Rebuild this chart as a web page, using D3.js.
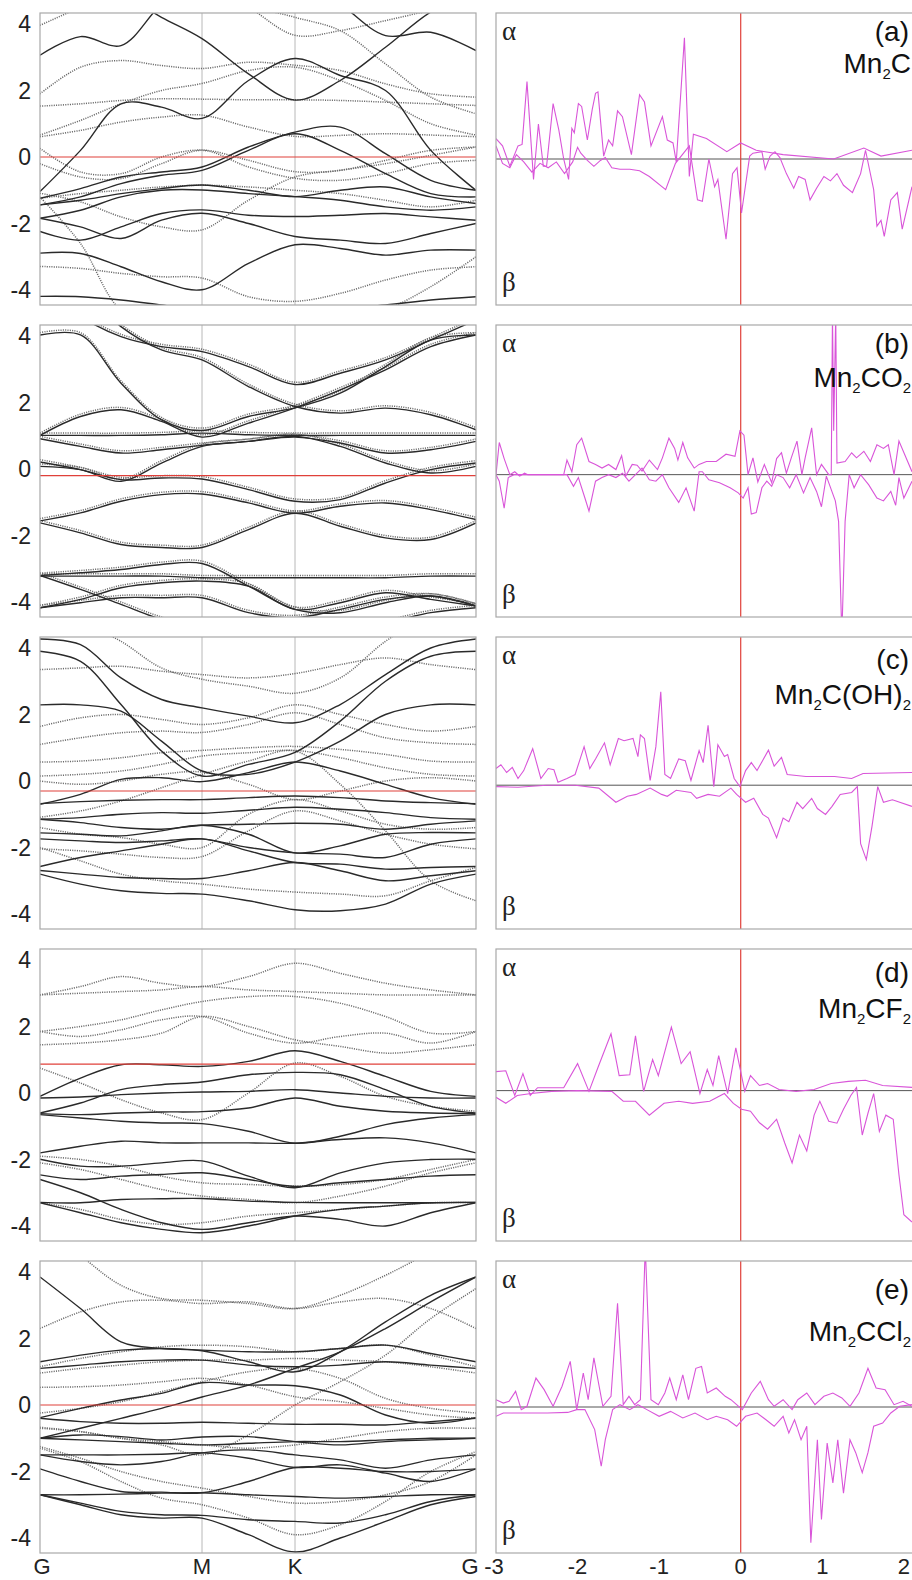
<!DOCTYPE html>
<html><head><meta charset="utf-8">
<script src="https://cdn.jsdelivr.net/npm/d3@7/dist/d3.min.js"></script>
<style>body{margin:0;background:#fff}</style>
</head><body><svg id="c" width="912" height="1580"></svg>
<script>
// ---------- data ----------
const kPos = [0,0.25,0.5,0.75,1,1.5,2,2.25,2.5,2.75,3];
const kSym = [0,1,2,3];
const kLabels = ["G","M","K","G"];
const yTicks = [4,2,0,-2,-4];
const eTicks = [-3,-2,-1,0,1,2];
const panelLetters = ["(a)","(b)","(c)","(d)","(e)"];
const formulaA = [["Mn",0],["2",1],["C",0]];
const formulaB = [["Mn",0],["2",1],["CO",0],["2",1]];
const formulaC = [["Mn",0],["2",1],["C(OH)",0],["2",1]];
const formulaD = [["Mn",0],["2",1],["CF",0],["2",1]];
const formulaE = [["Mn",0],["2",1],["CCl",0],["2",1]];
const fermiLevels = [0.0,-0.2,-0.3,0.87,0.0];

// band energies at kPos (G ... M .. K ... G)
const bandsA_solid = [
 [3.06,3.62,3.35,4.6,5.5,5.5,5.5,5.5,5.5,5.5,5.5],
 [5.5,5.2,4.9,4.2,3.56,2.5,1.71,2.3,3.3,4.36,5.0],
 [5.5,5.5,5.5,5.5,5.5,5.5,5.5,4.6,3.65,3.75,3.2],
 [-1.04,0.2,1.6,1.5,1.16,2.3,2.96,2.45,2.0,0.2,-1.0],
 [-1.24,-0.95,-0.6,-0.45,-0.3,0.3,0.75,0.9,0.1,-0.7,-1.0],
 [-1.44,-1.2,-0.8,-0.55,-0.4,0.2,0.7,0.2,-0.5,-1.1,-1.2],
 [-1.44,-1.3,-1.1,-0.95,-0.84,-1.0,-1.19,-1.0,-0.9,-1.2,-1.4],
 [-1.84,-1.6,-1.2,-1.0,-0.99,-1.1,-1.19,-1.3,-1.5,-1.6,-1.5],
 [-2.24,-2.5,-2.1,-1.7,-1.59,-1.75,-1.79,-1.75,-1.7,-1.8,-1.9],
 [-1.84,-2.1,-2.45,-1.9,-1.69,-2.0,-2.39,-2.5,-2.6,-2.3,-2.0],
 [-2.89,-2.9,-3.3,-3.75,-3.99,-3.2,-2.64,-2.75,-2.95,-2.8,-2.8],
 [-4.19,-4.2,-4.3,-4.45,-4.6,-4.6,-4.6,-4.55,-4.45,-4.3,-4.2]
];
const bandsA_dotted = [
 [3.96,4.5,5.0,5.2,5.2,4.5,3.66,3.8,4.1,4.4,4.6],
 [1.9,2.7,2.9,2.75,2.66,2.85,2.76,2.6,2.2,1.9,1.8],
 [1.53,1.6,1.7,1.75,1.74,1.72,1.72,1.7,1.65,1.6,1.55],
 [0.66,1.1,1.6,2.0,2.21,2.6,2.7,2.3,1.7,1.0,0.66],
 [0.61,0.8,1.05,1.2,1.26,0.9,0.62,0.65,0.7,0.66,0.61],
 [0.26,-0.45,-0.5,0.0,0.21,-0.1,-0.44,-0.4,-0.1,0.2,0.3],
 [-0.2,-0.6,-0.65,-0.2,0.2,-0.3,-0.64,-0.7,-0.5,-0.2,-0.1],
 [-1.09,-1.35,-1.8,-2.1,-2.19,-1.3,-0.6,-0.4,-0.2,0.05,0.3],
 [-1.24,-1.1,-1.0,-0.9,-0.85,-0.9,-1.0,-1.1,-1.3,-1.5,-1.3],
 [-3.29,-3.35,-3.5,-3.6,-3.64,-4.2,-4.34,-4.1,-3.7,-3.4,-3.3],
 [-1.2,-2.6,-4.6,-5,-5,-5,-5,-5,-4.6,-3.9,-3.0],
 [5.5,5.5,5.5,5.5,5.5,4.6,4.2,3.8,2.8,1.8,1.3]
];
const bandsB = [
 [4.05,4.05,2.6,1.5,1.18,1.6,1.86,2.3,3.1,3.9,4.05],
 [5.5,4.6,4.0,3.7,3.55,3.1,2.56,2.9,3.3,3.9,4.5],
 [5.5,5.5,4.3,3.6,3.3,2.5,1.9,1.7,1.85,1.65,1.2],
 [1.03,1.6,1.8,1.45,0.98,1.4,1.86,2.4,3.0,3.7,4.05],
 [1.03,1.03,1.03,1.05,1.1,1.05,1.03,1.03,1.03,1.03,1.03],
 [0.93,0.7,0.5,0.6,0.73,0.85,0.98,0.8,0.5,0.6,0.85],
 [0.23,0.0,-0.3,-0.25,-0.28,-0.6,-0.95,-0.9,-0.4,0.0,0.2],
 [0.1,0.0,-0.35,0.2,0.7,0.85,1.0,0.7,0.2,-0.1,0.1],
 [-1.54,-1.3,-0.95,-0.75,-0.73,-1.0,-1.31,-1.1,-1.0,-1.2,-1.5],
 [-1.6,-1.9,-2.25,-2.34,-2.34,-1.8,-1.31,-1.7,-2.05,-2.1,-1.6],
 [-3.18,-3.1,-3.0,-2.85,-2.82,-3.5,-4.2,-4.3,-4.0,-3.8,-4.1],
 [-3.18,-3.6,-4.05,-4.5,-4.8,-4.8,-4.8,-4.8,-4.6,-4.3,-4.15],
 [-3.2,-3.2,-3.2,-3.2,-3.25,-3.25,-3.25,-3.25,-3.25,-3.2,-3.2],
 [-4.15,-4.0,-3.85,-3.85,-3.85,-4.3,-4.45,-4.2,-3.9,-3.8,-4.1],
 [-4.15,-3.9,-3.55,-3.4,-3.35,-3.5,-4.2,-4.0,-3.7,-3.9,-4.1]
];
const bandsC_solid = [
 [4.27,4.1,3.1,2.45,2.2,1.95,1.75,2.3,3.2,4.0,4.27],
 [3.9,3.6,2.3,0.9,0.15,0.5,0.86,1.8,3.0,3.75,3.9],
 [2.29,2.29,2.1,1.2,0.3,0.2,0.57,1.2,2.0,2.29,2.29],
 [-0.7,-0.4,0.05,0.1,-0.02,0.25,0.57,0.3,-0.1,-0.5,-0.7],
 [-0.68,-0.62,-0.58,-0.56,-0.56,-0.5,-0.45,-0.5,-0.6,-0.65,-0.68],
 [-1.15,-1.1,-1.0,-0.95,-0.97,-0.88,-0.79,-0.85,-0.95,-1.1,-1.15],
 [-1.15,-1.25,-1.4,-1.45,-1.33,-1.3,-1.27,-1.3,-1.45,-1.3,-1.2],
 [-1.56,-1.6,-1.65,-1.5,-1.33,-1.6,-2.16,-1.95,-1.6,-1.55,-1.56],
 [-1.74,-1.8,-1.85,-1.8,-1.74,-2.0,-2.16,-2.2,-2.3,-1.9,-1.74],
 [-2.57,-2.3,-2.1,-1.9,-1.74,-2.1,-2.45,-2.5,-2.65,-2.6,-2.57],
 [-2.69,-2.8,-2.9,-2.93,-2.93,-2.7,-2.45,-2.7,-3.0,-2.85,-2.7],
 [-2.8,-3.1,-3.3,-3.38,-3.4,-3.6,-3.87,-3.9,-3.7,-3.1,-2.8]
];
const bandsC_dotted = [
 [5.5,4.8,4.2,3.4,3.06,2.85,2.64,3.1,4.2,5.0,5.5],
 [3.35,3.4,3.45,3.3,3.2,3.1,3.23,3.5,3.7,3.5,3.35],
 [1.64,1.9,2.0,1.85,1.7,1.9,2.29,2.0,1.7,1.5,1.64],
 [1.1,1.3,1.45,1.5,1.46,1.7,2.05,1.7,1.3,1.15,1.1],
 [0.57,0.6,0.7,0.85,0.92,1.0,1.04,0.95,0.8,0.6,0.57],
 [0.15,0.2,0.3,0.5,0.75,0.85,0.92,0.7,0.4,0.2,0.15],
 [0.0,-0.1,0.0,0.2,0.27,-0.1,-0.56,-0.3,0.0,0.1,0.0],
 [-1.09,-0.9,-0.6,-0.2,0.2,0.6,0.9,-0.1,-1.5,-3.0,-3.6],
 [-2.04,-2.1,-2.2,-2.3,-2.27,-1.5,-0.9,-1.2,-1.6,-1.9,-2.04],
 [-2.0,-2.4,-2.8,-3.0,-3.1,-3.25,-3.34,-3.4,-3.45,-3.0,-2.6],
 [-1.4,-1.6,-1.7,-1.9,-2.0,-1.0,-0.56,-0.9,-1.3,-1.45,-1.4]
];
const bandsD_solid = [
 [-0.1,0.45,0.85,0.85,0.8,0.95,1.27,0.95,0.5,0.05,-0.1],
 [-0.6,-0.3,0.1,0.25,0.33,0.55,0.62,0.55,0.1,-0.4,-0.6],
 [-0.15,-0.12,-0.05,0.0,0.03,0.05,0.1,0.0,-0.1,-0.15,-0.15],
 [-0.62,-0.65,-0.6,-0.57,-0.56,-0.45,-0.15,-0.4,-0.55,-0.6,-0.62],
 [-0.65,-0.75,-0.85,-0.9,-0.92,-1.15,-1.51,-1.3,-0.95,-0.75,-0.65],
 [-1.8,-1.6,-1.45,-1.5,-1.5,-1.5,-1.51,-1.4,-1.35,-1.5,-1.8],
 [-1.99,-2.2,-2.2,-2.1,-2.04,-2.5,-2.85,-2.4,-2.1,-2.0,-1.99],
 [-2.46,-2.6,-2.5,-2.45,-2.4,-2.6,-2.81,-2.7,-2.6,-2.5,-2.46],
 [-3.29,-3.3,-3.2,-3.18,-3.17,-3.25,-3.29,-3.3,-3.3,-3.3,-3.29],
 [-2.6,-3.0,-3.5,-3.9,-4.1,-3.9,-3.7,-3.8,-4.0,-3.6,-3.3],
 [-3.3,-3.6,-3.9,-4.1,-4.2,-4.0,-3.7,-3.5,-3.4,-3.3,-3.29]
];
const bandsD_dotted = [
 [2.95,3.2,3.5,3.3,3.2,3.5,3.9,3.6,3.3,3.1,2.95],
 [2.95,3.0,3.05,3.1,3.2,3.1,3.05,3.0,2.95,2.95,2.95],
 [1.85,2.0,2.2,2.5,2.75,2.9,2.9,2.7,2.3,1.8,1.85],
 [1.85,1.7,1.9,2.2,2.3,1.8,1.5,1.7,1.8,1.5,1.85],
 [1.45,1.5,1.6,1.8,2.3,2.0,1.6,1.4,1.2,1.3,1.45],
 [0.75,0.3,-0.2,-0.6,-0.8,0.0,0.9,0.5,-0.1,-0.4,-0.55],
 [-1.9,-2.0,-2.2,-2.5,-2.7,-2.75,-2.8,-2.75,-2.6,-2.3,-2.0],
 [-2.1,-2.3,-2.6,-2.9,-3.1,-3.2,-3.3,-3.1,-2.8,-2.4,-2.1],
 [-3.3,-3.5,-3.8,-3.95,-3.9,-3.7,-3.6,-3.5,-3.4,-3.3,-3.3]
];
const bandsE_solid = [
 [3.85,2.9,1.9,1.7,1.63,1.3,1.0,1.6,2.5,3.3,3.85],
 [1.3,1.5,1.65,1.7,1.65,1.6,1.6,1.7,1.8,1.55,1.3],
 [1.1,1.2,1.3,1.35,1.35,1.2,1.15,1.2,1.3,1.2,1.1],
 [-0.38,-0.1,0.15,0.35,0.67,0.6,0.58,0.3,-0.3,-0.55,-0.38],
 [-1.0,-0.7,-0.4,-0.1,0.24,0.6,1.1,1.6,2.3,3.1,3.85],
 [-0.4,-0.5,-0.55,-0.55,-0.52,-0.55,-0.58,-0.58,-0.6,-0.5,-0.4],
 [-1.0,-1.05,-1.1,-1.15,-1.2,-1.15,-1.1,-1.1,-1.05,-1.0,-1.0],
 [-1.0,-0.9,-0.95,-1.05,-0.96,-0.95,-1.1,-1.2,-1.1,-1.05,-1.0],
 [-1.5,-1.5,-1.5,-1.48,-1.44,-1.6,-1.88,-1.8,-2.05,-2.3,-1.92],
 [-1.5,-1.7,-1.8,-1.7,-1.44,-1.35,-1.5,-1.65,-1.9,-1.65,-1.5],
 [-1.92,-2.3,-2.6,-2.62,-2.64,-2.3,-1.88,-1.9,-2.0,-2.0,-1.92],
 [-2.7,-2.7,-2.68,-2.65,-2.64,-2.7,-2.75,-2.8,-2.75,-2.7,-2.7],
 [-2.7,-2.95,-3.2,-3.3,-3.32,-3.45,-3.5,-3.55,-3.3,-2.9,-2.7],
 [-2.7,-3.0,-3.3,-3.4,-3.4,-3.9,-4.42,-4.0,-3.5,-3.0,-2.75]
];
const bandsE_dotted = [
 [5.5,4.5,3.6,3.2,3.15,3.05,2.9,3.3,3.9,4.6,5.3],
 [2.3,2.8,3.1,3.15,3.05,3.1,2.9,3.1,3.2,2.9,2.3],
 [1.15,1.4,1.6,1.75,1.8,1.75,1.6,1.7,1.8,1.5,1.15],
 [0.96,1.1,1.2,1.3,1.35,1.35,1.4,1.35,1.3,1.15,0.96],
 [0.53,0.55,0.6,0.7,0.8,0.6,0.25,0.1,-0.1,-0.3,-0.4],
 [-0.24,-0.1,0.1,0.4,0.7,1.0,1.1,0.8,0.2,-0.1,-0.24],
 [-0.67,-0.8,-1.0,-1.2,-1.5,-0.9,0.0,0.7,1.5,2.6,3.5],
 [-1.25,-1.6,-2.0,-2.3,-2.5,-2.75,-2.95,-2.9,-2.7,-2.3,-1.5],
 [-1.3,-1.7,-2.3,-2.8,-3.0,-3.4,-3.9,-3.6,-2.9,-2.0,-1.4],
 [-0.7,-0.8,-1.0,-1.1,-1.2,-1.3,-1.2,-1.0,-0.8,-0.7,-0.7]
];

// DOS: [energy, value] pairs; alpha (spin up) and beta (spin down)
const dosA_alpha = [[-3.0,1.4],[-2.92,0.9],[-2.83,-0.5],[-2.73,0.9],[-2.68,1.0],[-2.62,5.3],[-2.54,-1.4],[-2.48,2.4],[-2.42,-0.5],[-2.38,-0.5],[-2.30,3.8],[-2.23,2.0],[-2.17,0],[-2.11,-1.4],[-2.07,2.1],[-2.04,1.8],[-1.99,3.8],[-1.95,3.6],[-1.88,1.3],[-1.82,3.4],[-1.78,4.5],[-1.75,4.6],[-1.68,0.2],[-1.62,1.3],[-1.57,0.9],[-1.51,3.3],[-1.45,2.9],[-1.34,0.3],[-1.24,4.4],[-1.18,3.9],[-1.10,0.9],[-0.96,2.9],[-0.90,1.3],[-0.83,1.1],[-0.79,-0.2],[-0.69,8.3],[-0.63,-1.2],[-0.58,1.7],[-0.42,1.4],[-0.17,0.5],[0,1.1],[0.19,0.6],[0.52,0.3],[1.14,0],[1.51,0.75],[1.72,0.2],[2.1,0.6]];
const dosA_beta = [[-3.0,0.9],[-2.92,-0.3],[-2.83,-0.6],[-2.75,0.3],[-2.66,-0.2],[-2.56,-0.9],[-2.46,-0.3],[-2.36,-0.6],[-2.26,-0.2],[-2.16,-1.0],[-2.06,-0.2],[-2.0,0.8],[-1.96,0.4],[-1.88,-0.1],[-1.80,-0.5],[-1.72,-0.1],[-1.66,0.1],[-1.58,-0.6],[-1.48,-0.7],[-1.36,-0.7],[-1.24,-0.8],[-1.12,-1.2],[-0.92,-2.1],[-0.80,-0.3],[-0.63,0.9],[-0.53,-2.8],[-0.47,-2.9],[-0.39,0],[-0.32,-1.9],[-0.28,-1.4],[-0.18,-5.5],[-0.10,-1.0],[-0.045,-0.6],[0.01,-3.7],[0.11,0.2],[0.15,0.4],[0.26,0.5],[0.30,-0.7],[0.36,0.2],[0.42,0.5],[0.48,0.1],[0.56,-1.0],[0.65,-2.0],[0.71,-1.2],[0.79,-1.4],[0.85,-2.8],[0.93,-2.0],[1.02,-1.2],[1.10,-1.5],[1.18,-1.0],[1.26,-1.8],[1.37,-2.3],[1.47,-1.0],[1.53,0.6],[1.63,-2.1],[1.67,-4.6],[1.72,-4.2],[1.76,-5.3],[1.84,-2.8],[1.92,-2.3],[1.98,-4.8],[2.1,-1.9]];
const dosB_alpha = [[-3.0,0],[-2.96,2.2],[-2.90,1.1],[-2.83,0],[-2.77,0.2],[-2.71,-0.1],[-2.65,0.1],[-2.61,0],[-2.17,0],[-2.13,1.0],[-2.07,0.2],[-2.01,2.05],[-1.95,2.5],[-1.86,0.9],[-1.78,0.7],[-1.70,0.45],[-1.62,0.7],[-1.53,0.35],[-1.46,1.3],[-1.41,-0.1],[-1.33,0.7],[-1.27,0.65],[-1.21,0.25],[-1.12,1.0],[-1.02,0.35],[-0.96,1.15],[-0.88,2.5],[-0.81,1.8],[-0.77,1.0],[-0.71,2.2],[-0.65,1.15],[-0.57,0.45],[-0.51,0.7],[-0.42,0.9],[-0.30,0.9],[-0.18,1.4],[-0.07,1.25],[-0.01,3.0],[0.04,2.7],[0.09,0],[0.15,1.15],[0.21,-0.5],[0.29,0.7],[0.38,-0.55],[0.44,1.1],[0.50,1.5],[0.56,0.1],[0.62,1.15],[0.69,2.3],[0.75,0],[0.79,1.15],[0.87,3.2],[0.93,0],[0.99,0.7],[1.08,0],[1.11,0],[1.125,11],[1.14,3],[1.165,11],[1.18,0.8],[1.28,0.9],[1.36,1.5],[1.42,1.15],[1.51,1.6],[1.59,0.9],[1.67,2.05],[1.75,1.8],[1.81,2.05],[1.88,0],[1.94,2.3],[2.1,0.2]];
const dosB_beta = [[-3.0,0],[-2.96,-0.45],[-2.90,-2.3],[-2.85,-0.2],[-2.78,0],[-2.17,0],[-2.13,0],[-2.05,-0.8],[-1.99,-0.2],[-1.91,-1.6],[-1.86,-2.5],[-1.78,-0.45],[-1.70,-0.2],[-1.62,0],[-1.53,-0.2],[-1.45,0.1],[-1.37,-0.45],[-1.29,0],[-1.21,0.45],[-1.12,-0.35],[-1.04,-0.45],[-0.96,0],[-0.88,-0.9],[-0.76,-1.9],[-0.67,-0.9],[-0.57,-2.5],[-0.51,0.2],[-0.47,0.2],[-0.39,-0.35],[-0.26,-0.55],[-0.13,-0.9],[-0.03,-1.25],[0.03,-1.6],[0.09,-0.9],[0.13,-2.7],[0.19,-2.6],[0.26,-0.9],[0.32,-0.45],[0.38,-0.8],[0.44,0],[0.52,-0.2],[0.60,-0.9],[0.68,0],[0.77,-1.25],[0.85,-0.2],[0.93,-1.15],[0.99,-2.2],[1.05,-0.1],[1.16,-1.8],[1.20,-3.2],[1.24,-11],[1.28,-3.2],[1.33,0],[1.39,-0.9],[1.47,0],[1.57,-0.7],[1.67,-1.6],[1.75,-1.8],[1.84,-1.15],[1.90,-2.1],[1.94,-0.2],[2.0,-1.6],[2.1,-0.45]];
const dosC_alpha = [[-3.0,1.14],[-2.94,1.4],[-2.87,0.87],[-2.80,1.22],[-2.73,0.46],[-2.66,1.0],[-2.55,2.5],[-2.45,0.46],[-2.36,1.14],[-2.29,1.06],[-2.24,0.2],[-2.13,0.46],[-2.03,0.73],[-1.92,2.64],[-1.85,1.14],[-1.78,1.8],[-1.67,2.9],[-1.60,1.4],[-1.50,3.2],[-1.43,3.05],[-1.32,3.2],[-1.26,1.96],[-1.23,3.45],[-1.18,3.2],[-1.11,0.33],[-1.04,2.64],[-0.98,6.4],[-0.93,0.73],[-0.86,0.46],[-0.76,1.8],[-0.68,1.68],[-0.61,0.33],[-0.51,2.37],[-0.46,1.55],[-0.40,4.1],[-0.33,-0.1],[-0.28,2.77],[-0.20,1.96],[-0.16,2.1],[-0.08,0.46],[-0.01,-0.1],[0.06,1.0],[0.13,1.55],[0.20,1.0],[0.34,2.4],[0.41,1.3],[0.50,1.9],[0.57,0.73],[0.80,0.6],[1.15,0.6],[1.36,0.46],[1.50,0.8],[2.1,0.87]];
const dosC_beta = [[-3.0,-0.1],[-2.73,-0.14],[-2.38,0],[-2.03,0],[-1.74,-0.2],[-1.53,-1.17],[-1.39,-0.76],[-1.28,-0.63],[-1.11,-0.2],[-0.97,-0.63],[-0.90,-0.76],[-0.79,-0.35],[-0.61,-0.5],[-0.54,-0.9],[-0.40,-0.63],[-0.26,-0.76],[-0.12,-0.2],[-0.05,-0.63],[0.06,-1.17],[0.16,-0.9],[0.27,-2.0],[0.34,-2.25],[0.44,-3.6],[0.52,-2.25],[0.59,-2.5],[0.69,-1.17],[0.76,-1.6],[0.87,-0.9],[0.94,-1.6],[1.04,-2.0],[1.12,-1.45],[1.22,-0.63],[1.36,-0.5],[1.43,-0.1],[1.47,-4.0],[1.54,-5.1],[1.61,-2.8],[1.68,-0.1],[1.75,-1.17],[1.86,-1.0],[2.1,-1.45]];
const dosD_alpha = [[-3.0,1.3],[-2.88,1.36],[-2.77,-0.33],[-2.67,1.17],[-2.58,-0.33],[-2.49,0.2],[-2.17,0.2],[-2.0,1.85],[-1.86,-0.05],[-1.75,1.58],[-1.59,3.89],[-1.49,1.03],[-1.36,1.09],[-1.29,3.75],[-1.19,-0.05],[-1.08,2.12],[-1.01,1.03],[-0.85,4.35],[-0.73,1.85],[-0.62,2.66],[-0.50,-0.2],[-0.41,1.44],[-0.34,0.35],[-0.27,2.39],[-0.16,-0.2],[-0.06,2.93],[0.05,-0.05],[0.12,1.03],[0.23,0.35],[0.33,0.49],[0.47,0.08],[0.68,-0.05],[0.90,0.08],[1.11,0.49],[1.32,0.63],[1.53,0.71],[1.74,0.35],[2.1,0.22]];
const dosD_beta = [[-3.0,-0.46],[-2.88,-0.87],[-2.74,-0.33],[-2.57,-0.2],[-2.32,-0.05],[-2.0,0],[-1.58,-0.05],[-1.44,-0.73],[-1.29,-0.73],[-1.12,-1.68],[-0.94,-0.87],[-0.76,-0.73],[-0.59,-0.87],[-0.38,-0.73],[-0.2,-0.2],[-0.09,-0.87],[0.01,-1.28],[0.12,-1.41],[0.23,-2.2],[0.33,-2.64],[0.44,-1.96],[0.54,-3.59],[0.63,-4.95],[0.72,-3.04],[0.81,-4.13],[0.90,-1.68],[0.97,-0.73],[1.08,-2.1],[1.18,-2.23],[1.26,-1.28],[1.35,-0.33],[1.42,0.22],[1.49,-3.04],[1.56,-1.55],[1.63,-0.2],[1.70,-2.8],[1.78,-1.68],[1.87,-1.96],[1.94,-5.76],[2.0,-8.5],[2.1,-9]];
const dosE_alpha = [[-3.0,0.5],[-2.91,0.27],[-2.84,0.39],[-2.76,1.07],[-2.69,-0.18],[-2.62,0.05],[-2.51,1.98],[-2.41,1.19],[-2.30,0.05],[-2.19,1.42],[-2.09,3.13],[-2.01,-0.18],[-1.93,2.33],[-1.87,0.5],[-1.80,3.36],[-1.69,0.05],[-1.59,0.73],[-1.51,7.1],[-1.44,0.16],[-1.37,0.73],[-1.30,0.16],[-1.23,0.5],[-1.17,11],[-1.10,0.5],[-1.01,0.16],[-0.93,0.96],[-0.87,1.98],[-0.79,0.5],[-0.71,2.2],[-0.64,0.5],[-0.55,2.65],[-0.48,2.77],[-0.41,0.96],[-0.30,1.3],[-0.19,0.73],[-0.12,0.5],[-0.05,0.16],[0.02,-0.18],[0.13,0.96],[0.24,1.76],[0.34,0.5],[0.41,0.05],[0.52,0.5],[0.63,-0.18],[0.70,0.5],[0.81,0.96],[0.91,0.16],[1.02,0.73],[1.13,0.96],[1.24,0.62],[1.34,0.05],[1.45,0.96],[1.56,2.65],[1.66,1.3],[1.77,1.19],[1.88,0.16],[1.99,0.39],[2.1,0.05]];
const dosE_beta = [[-3.0,-0.64],[-2.91,-0.41],[-2.73,-0.41],[-2.37,-0.41],[-2.12,-0.37],[-2.01,-0.18],[-1.91,-0.18],[-1.79,-1.55],[-1.71,-4.06],[-1.66,-2.24],[-1.57,-0.18],[-1.48,0.16],[-1.36,-0.18],[-1.26,0.16],[-1.15,-0.18],[-1.0,-0.64],[-0.86,-0.3],[-0.71,-0.75],[-0.56,-0.41],[-0.41,-0.87],[-0.30,-0.64],[-0.16,-0.87],[-0.05,-1.32],[0.06,-0.64],[0.20,-0.41],[0.31,-0.87],[0.41,-1.32],[0.52,-0.64],[0.59,-1.78],[0.66,-0.87],[0.74,-2.24],[0.81,-1.32],[0.86,-9.3],[0.94,-2.24],[0.99,-7.7],[1.06,-2.47],[1.13,-5.2],[1.19,-2.24],[1.26,-5.9],[1.34,-2.24],[1.41,-3.13],[1.49,-4.5],[1.56,-3.13],[1.63,-1.32],[1.74,-1.1],[1.84,-0.41],[1.95,0.05],[2.1,0.16]];

// ---------- drawing ----------
const panels = [
 {solid:bandsA_solid, dotted:bandsA_dotted, double:false, alpha:dosA_alpha, beta:dosA_beta, formula:formulaA},
 {solid:bandsB, dotted:bandsB, double:true, alpha:dosB_alpha, beta:dosB_beta, formula:formulaB},
 {solid:bandsC_solid, dotted:bandsC_dotted, double:false, alpha:dosC_alpha, beta:dosC_beta, formula:formulaC},
 {solid:bandsD_solid, dotted:bandsD_dotted, double:false, alpha:dosD_alpha, beta:dosD_beta, formula:formulaD},
 {solid:bandsE_solid, dotted:bandsE_dotted, double:false, alpha:dosE_alpha, beta:dosE_beta, formula:formulaE}
];
const tops = [13,325,637,949,1261];
const H = 292;
const bandX0 = 40, bandX1 = 476, dosX0 = 496, dosX1 = 912;
const labelBase = [[28,60],[28,62],[32,67],[33,69],[38,80]];
const dosZeroShift = [0,0.25,0.15,-0.3,0];

const svg = d3.select("#c");
const defs = svg.append("defs");
const kx = d3.scaleLinear().domain(kSym).range([bandX0, 202, 295, bandX1]);
const ex = d3.scaleLinear().domain([-3, 2.1]).range([dosX0, dosX1]);
const FONT = "'Liberation Sans', Arial, sans-serif";

panels.forEach((p, i) => {
  const top = tops[i], bot = top + H;
  const ey = d3.scaleLinear().domain([-4.45, 4.33]).range([bot, top]);
  const z = dosZeroShift[i];
  const dy = d3.scaleLinear().domain([-10 + z, 10 + z]).range([bot, top]);

  defs.append("clipPath").attr("id", "cb" + i).append("rect")
    .attr("x", bandX0).attr("y", top).attr("width", bandX1 - bandX0).attr("height", H);
  defs.append("clipPath").attr("id", "cd" + i).append("rect")
    .attr("x", dosX0).attr("y", top).attr("width", dosX1 - dosX0).attr("height", H);

  // ---- band panel ----
  const gb = svg.append("g");
  const gbc = gb.append("g").attr("clip-path", `url(#cb${i})`);
  [1, 2].forEach(k => gbc.append("line").attr("x1", kx(k)).attr("x2", kx(k))
      .attr("y1", top).attr("y2", bot).attr("stroke", "#b8b8b8").attr("stroke-width", 1));
  const line = (off) => d3.line().x((d, j) => kx(kPos[j])).y(d => ey(d + off))
      .curve(d3.curveCatmullRom.alpha(0.5));
  p.dotted.forEach(b => gbc.append("path").attr("d", line(p.double ? 0.05 : 0)(b))
      .attr("fill", "none").attr("stroke", "#6a6a6a").attr("stroke-width", 1.5)
      .attr("stroke-dasharray", "1.1,1.2"));
  p.solid.forEach(b => gbc.append("path").attr("d", line(p.double ? -0.02 : 0)(b))
      .attr("fill", "none").attr("stroke", "#2a2a2a").attr("stroke-width", 1.4));
  gbc.append("line").attr("x1", bandX0).attr("x2", bandX1)
    .attr("y1", ey(fermiLevels[i])).attr("y2", ey(fermiLevels[i]))
    .attr("stroke", "#e0403a").attr("stroke-width", 1.2);
  gb.append("rect").attr("x", bandX0).attr("y", top).attr("width", bandX1 - bandX0)
    .attr("height", H).attr("fill", "none").attr("stroke", "#a8a8a8").attr("stroke-width", 1.2);
  yTicks.forEach(t => gb.append("text").attr("x", 31).attr("y", ey(t))
    .attr("dy", "0.36em").attr("text-anchor", "end").attr("font-family", FONT)
    .attr("font-size", 23).attr("fill", "#222").text(t));

  // ---- DOS panel ----
  const gd = svg.append("g");
  const gdc = gd.append("g").attr("clip-path", `url(#cd${i})`);
  gdc.append("line").attr("x1", dosX0).attr("x2", dosX1).attr("y1", dy(0)).attr("y2", dy(0))
    .attr("stroke", "#555").attr("stroke-width", 1);
  gdc.append("line").attr("x1", ex(0)).attr("x2", ex(0)).attr("y1", top).attr("y2", bot)
    .attr("stroke", "#e0403a").attr("stroke-width", 1.2);
  const dl = d3.line().x(d => ex(d[0])).y(d => dy(d[1]));
  [p.beta, p.alpha].forEach(s => gdc.append("path").attr("d", dl(s)).attr("fill", "none")
    .attr("stroke", "#d955d9").attr("stroke-width", 1.1));
  gd.append("rect").attr("x", dosX0).attr("y", top).attr("width", dosX1 - dosX0 + 5)
    .attr("height", H).attr("fill", "none").attr("stroke", "#a8a8a8").attr("stroke-width", 1.2);
  gd.append("text").attr("x", dosX0 + 6).attr("y", top + 27).attr("font-family", "'Liberation Serif', 'DejaVu Serif', serif")
    .attr("font-size", 27).attr("fill", "#222").text("α");
  gd.append("text").attr("x", dosX0 + 6).attr("y", bot - 14).attr("font-family", "'Liberation Serif', 'DejaVu Serif', serif")
    .attr("font-size", 27).attr("fill", "#222").text("β");
  gd.append("text").attr("x", 909).attr("y", top + labelBase[i][0]).attr("text-anchor", "end")
    .attr("font-family", FONT).attr("font-size", 28).attr("fill", "#111").text(panelLetters[i]);
  const ft = gd.append("text").attr("x", 911).attr("y", top + labelBase[i][1]).attr("text-anchor", "end")
    .attr("font-family", FONT).attr("font-size", 28).attr("fill", "#111");
  let prevSub = 0;
  p.formula.forEach(([s, sub]) => {
    const ts = ft.append("tspan").text(s);
    if (sub) ts.attr("font-size", 15).attr("dy", prevSub ? 0 : 6);
    else ts.attr("dy", prevSub ? -6 : 0);
    prevSub = sub;
  });
});

// bottom axis labels
const lastBot = tops[4] + H;
kSym.forEach((k, j) => svg.append("text").attr("x", j === 3 ? kx(k) - 6 : kx(k) + (j === 0 ? 2 : 0))
  .attr("y", lastBot + 21).attr("text-anchor", "middle").attr("font-family", FONT)
  .attr("font-size", 22).attr("fill", "#222").text(kLabels[j]));
eTicks.forEach(t => svg.append("text").attr("x", ex(t) + (t === -3 ? -2 : 0)).attr("y", lastBot + 21)
  .attr("text-anchor", "middle").attr("font-family", FONT)
  .attr("font-size", 22).attr("fill", "#222").text(t));
</script></body></html>
